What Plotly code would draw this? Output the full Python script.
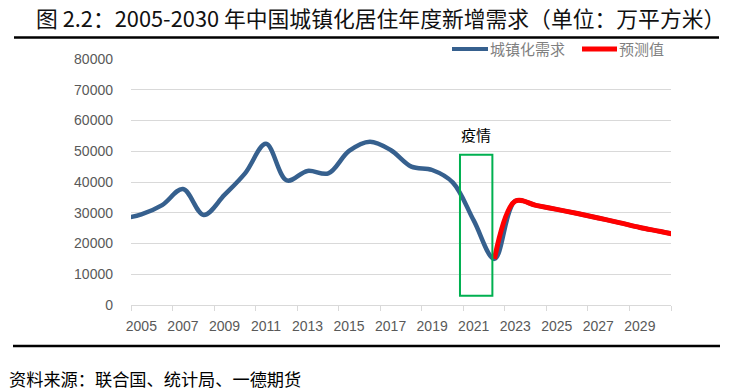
import plotly.graph_objects as go

# ---- data ----
years = list(range(2004, 2032))
demand = [28000, 29500, 32500, 37700, 29300, 35800, 42900, 52400, 40500, 43600,
          42800, 50100, 53100, 50400, 45000, 43900, 39800, 27500, 15000, 33800,
          32400, 31100, 29750, 28300, 26800, 25200, 23900, 22500]
forecast_years = list(range(2022, 2032))
forecast = [15000, 33800, 32400, 31100, 29750, 28300, 26800, 25200, 23900, 22500]

label_years = list(range(2005, 2030, 2))
boundary_ticks = [y + 0.5 for y in range(2004, 2031, 2)]
yticks = list(range(0, 80001, 10000))
series_names = ["城镇化需求", "预测值"]

BLUE = "#36608e"
RED = "#ff0000"
GREEN = "#00b050"
GRID = "#d9d9d9"
TXT = "#595959"
CJK = "Noto Sans CJK SC"

W, H = 733, 391
ML, MR, MT, MB = 131, 62, 59, 86
PW, PH = W - ML - MR, H - MT - MB


def px(x):
    return (x - ML) / PW


def py(y):
    return (H - MB - y) / PH


fig = go.Figure()
fig.add_trace(go.Scatter(
    x=years, y=demand, mode="lines", name=series_names[0], showlegend=False,
    line=dict(color=BLUE, width=4.5, shape="spline", smoothing=1.0)))
fig.add_trace(go.Scatter(
    x=forecast_years, y=forecast, mode="lines", name=series_names[1], showlegend=False,
    line=dict(color=RED, width=5, shape="spline", smoothing=1.0)))

fig.update_layout(
    width=W, height=H,
    margin=dict(l=ML, r=MR, t=MT, b=MB),
    paper_bgcolor="white", plot_bgcolor="white",
    font=dict(family=CJK, color=TXT),
    xaxis=dict(range=[2004.5, 2030.5], tickvals=label_years,
               ticktext=[str(y) for y in label_years],
               showgrid=False, zeroline=False, ticks="",
               showline=True, linecolor=GRID, linewidth=1,
               ticklabelstandoff=8,
               tickfont=dict(size=14, color=TXT, family="Liberation Sans"),
               minor=dict(tickvals=boundary_ticks, ticks="outside", ticklen=5,
                          tickcolor=GRID, showgrid=False)),
    yaxis=dict(range=[0, 80000], tickvals=yticks, tickformat="d",
               showgrid=True, gridcolor=GRID,
               gridwidth=1, zeroline=False, showline=False, ticks="",
               tickfont=dict(size=14, color=TXT, family="Liberation Sans"),
               ticklabelstandoff=17),
)

# manual legend
legend_items = [(452, 488, 490, BLUE, 4), (582, 617, 619, RED, 5)]
for (lx0, lx1, tx, col, lw), name in zip(legend_items, series_names):
    fig.add_shape(type="line", xref="paper", yref="paper", x0=px(lx0), x1=px(lx1),
                  y0=py(49), y1=py(49), line=dict(color=col, width=lw))
    fig.add_annotation(xref="paper", yref="paper", x=px(tx), y=py(49), text=name,
                       showarrow=False, xanchor="left", yanchor="middle", xshift=-2,
                       font=dict(size=15, color="#7f7f7f", family=CJK))

# outbreak box and label
fig.add_shape(type="rect", xref="x", yref="y", x0=2020.34, x1=2021.9,
              y0=3000, y1=48900, line=dict(color=GREEN, width=2))
fig.add_annotation(xref="x", yref="y", x=2021.12, y=55500, text="疫情",
                   showarrow=False, font=dict(size=15, color="black", family=CJK))

# title and rules
fig.add_annotation(xref="paper", yref="paper", x=px(380), y=py(18),
                   text="图 2.2：2005-2030 年中国城镇化居住年度新增需求（单位：万平方米）",
                   showarrow=False, xanchor="center", yanchor="middle",
                   font=dict(size=21.8, color="#111111", family=CJK))
fig.add_shape(type="line", xref="paper", yref="paper", x0=px(14), x1=px(719),
              y0=py(37.5), y1=py(37.5), line=dict(color="black", width=2.5))
fig.add_shape(type="line", xref="paper", yref="paper", x0=px(13), x1=px(720),
              y0=py(346), y1=py(346), line=dict(color="black", width=2.5))
fig.add_annotation(xref="paper", yref="paper", x=px(7), y=py(378),
                   text="资料来源：联合国、统计局、一德期货",
                   showarrow=False, xanchor="left", yanchor="middle",
                   font=dict(size=17.2, color="black", family=CJK))

fig.write_html("out.html", config={"displayModeBar": False},
               post_script="document.body.style.margin='0';document.body.style.overflow='hidden';")
